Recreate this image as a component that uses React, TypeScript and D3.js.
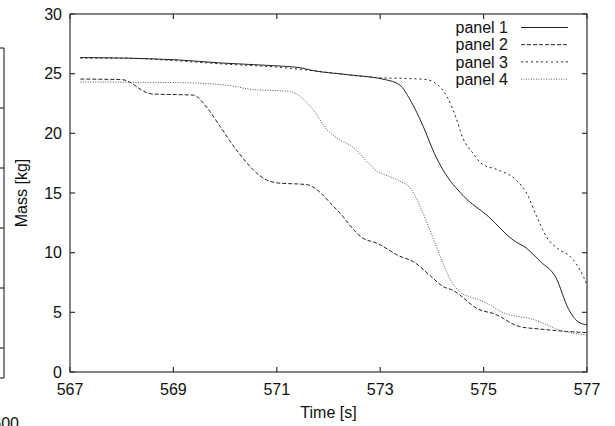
import * as d3 from "d3";

// time [s] / mass [kg] pairs
const panel1: [number, number][] = [
  [567.2, 26.35], [568.1, 26.3], [569.1, 26.15], [569.9, 25.9], [570.8, 25.7],
  [571.45, 25.5], [571.65, 25.3], [572.4, 24.9], [573.1, 24.5], [573.38, 24.05],
  [573.58, 22.8], [573.83, 20.6], [574.05, 18.3], [574.22, 16.9], [574.6, 14.8],
  [575.1, 13.0], [575.57, 11.06], [575.83, 10.37], [576.1, 9.25], [576.4, 7.9],
  [576.64, 5.3], [576.83, 4.2], [577.0, 3.95],
];
const panel2: [number, number][] = [
  [567.2, 24.55], [568.0, 24.5], [568.58, 23.3], [569.39, 23.2], [569.64, 22.2],
  [569.9, 20.6], [570.22, 18.6], [570.8, 16.1], [571.0, 15.85], [571.58, 15.7],
  [572.16, 13.6], [572.67, 11.2], [572.93, 10.8], [573.38, 9.7], [573.64, 9.25],
  [573.96, 8.1], [574.22, 7.15], [574.38, 6.9], [574.93, 5.2], [575.19, 4.9],
  [575.7, 3.8], [576.09, 3.6], [576.6, 3.4], [577.0, 3.3],
];
const panel3: [number, number][] = [
  [567.2, 26.3], [568.0, 26.3], [569.0, 26.1], [570.0, 25.8], [571.0, 25.55],
  [572.0, 25.1], [572.6, 24.8], [573.0, 24.65], [573.5, 24.6], [573.9, 24.5],
  [574.1, 24.1], [574.29, 23.1], [574.45, 21.5], [574.6, 19.6], [574.8, 18.3],
  [574.95, 17.5], [575.3, 16.9], [575.6, 16.2], [575.83, 15.0], [576.03, 13.0],
  [576.22, 11.3], [576.48, 10.2], [576.67, 9.7], [576.93, 8.0], [577.0, 7.3],
];
const panel4: [number, number][] = [
  [567.2, 24.3], [569.1, 24.25], [570.1, 24.0], [570.48, 23.7], [571.26, 23.5],
  [571.45, 23.1], [571.7, 22.0], [571.97, 20.3], [572.22, 19.45], [572.42, 19.0],
  [572.54, 18.6], [572.75, 17.6], [572.95, 16.8], [573.2, 16.35], [573.38, 16.0],
  [573.6, 15.3], [573.8, 13.6], [573.96, 11.9], [574.16, 9.7], [574.35, 7.8],
  [574.54, 6.7], [574.74, 6.3], [575.0, 5.9], [575.38, 4.97], [575.96, 4.4],
  [576.09, 4.2], [576.48, 3.5], [577.0, 3.1],
];

const seriesNames = ["panel 1", "panel 2", "panel 3", "panel 4"];
const seriesData = [panel1, panel2, panel3, panel4];
const xTicks = [567, 569, 571, 573, 575, 577];
const yTicks = [0, 5, 10, 15, 20, 25, 30];

// neighbouring panel that is cut off at the left edge
const sideTicks = [0, 1, 2, 3, 4];
const sideLabel = "600";

const width = 615;
const height = 426;
const marginLeft = 70;
const marginRight = 28;
const marginTop = 14;
const marginBottom = 54;

const styles = [
  { dash: null, color: "#222" },
  { dash: "4,2", color: "#222" },
  { dash: "2,3", color: "#222" },
  { dash: "1,1.5", color: "#555" },
];

const font = "'Liberation Sans', Arial, Helvetica, sans-serif";

export default function App() {
  const x = d3
    .scaleLinear()
    .domain([567, 577])
    .range([marginLeft, width - marginRight]);
  const y = d3
    .scaleLinear()
    .domain([0, 30])
    .range([height - marginBottom, marginTop]);
  const side = d3.scaleLinear().domain([-0.5, 5]).range([378, 48]);

  const line = d3
    .line<[number, number]>()
    .x((d) => x(d[0]))
    .y((d) => y(d[1]))
    .curve(d3.curveMonotoneX);

  const x0 = marginLeft;
  const x1 = width - marginRight;
  const y0 = height - marginBottom;
  const y1 = marginTop;
  const tick = 5;
  const axisColor = "#333";

  return (
    <div style={{ position: "absolute", left: 0, top: 0 }}>
      <svg width={width} height={height} style={{ display: "block", fontFamily: font }}>
        <rect width={width} height={height} fill="#fff" />

        {/* cut-off panel on the left */}
        <g stroke={axisColor} strokeWidth={1.2} fill="none">
          <line x1={4} x2={4} y1={side(5)} y2={side(-0.5)} />
          <line x1={-2} x2={4} y1={side(5)} y2={side(5)} />
          <line x1={-2} x2={4} y1={side(-0.5)} y2={side(-0.5)} />
          {sideTicks.map((t) => (
            <line key={t} x1={-2} x2={4} y1={side(t)} y2={side(t)} />
          ))}
        </g>
        <text x={19} y={429} textAnchor="end" fontSize={16} fill="#111">
          {sideLabel}
        </text>

        {/* series */}
        <g fill="none">
          {seriesData.map((d, i) => (
            <path
              key={i}
              d={line(d) ?? ""}
              stroke={styles[i].color}
              strokeWidth={1}
              strokeDasharray={styles[i].dash ?? undefined}
            />
          ))}
        </g>

        {/* frame and ticks */}
        <g stroke={axisColor} strokeWidth={1.2} fill="none">
          <rect x={x0} y={y1} width={x1 - x0} height={y0 - y1} />
          {xTicks.map((t) => (
            <g key={t}>
              <line x1={x(t)} x2={x(t)} y1={y0} y2={y0 - tick} />
              <line x1={x(t)} x2={x(t)} y1={y1} y2={y1 + tick} />
            </g>
          ))}
          {yTicks.map((t) => (
            <g key={t}>
              <line x1={x0} x2={x0 + tick} y1={y(t)} y2={y(t)} />
              <line x1={x1} x2={x1 - tick} y1={y(t)} y2={y(t)} />
            </g>
          ))}
        </g>

        <g fontSize={16} fill="#111">
          {xTicks.map((t) => (
            <text key={t} x={x(t)} y={y0 + 23} textAnchor="middle">
              {t}
            </text>
          ))}
          {yTicks.map((t) => (
            <text key={t} x={x0 - 8} y={y(t)} dy="0.36em" textAnchor="end">
              {t}
            </text>
          ))}
          <text x={(x0 + x1) / 2} y={418} textAnchor="middle">
            Time [s]
          </text>
          <text
            transform={`translate(27,${(y0 + y1) / 2}) rotate(-90)`}
            textAnchor="middle"
          >
            Mass [kg]
          </text>
        </g>

        {/* legend */}
        <g fontSize={16} fill="#111">
          {seriesNames.map((name, i) => {
            const ly = 27.5 + i * 17.2;
            return (
              <g key={name}>
                <text x={508} y={ly} dy="0.36em" textAnchor="end">
                  {name}
                </text>
                <line
                  x1={521}
                  x2={568}
                  y1={ly}
                  y2={ly}
                  stroke={styles[i].color}
                  strokeWidth={1}
                  strokeDasharray={styles[i].dash ?? undefined}
                />
              </g>
            );
          })}
        </g>
      </svg>
    </div>
  );
}
